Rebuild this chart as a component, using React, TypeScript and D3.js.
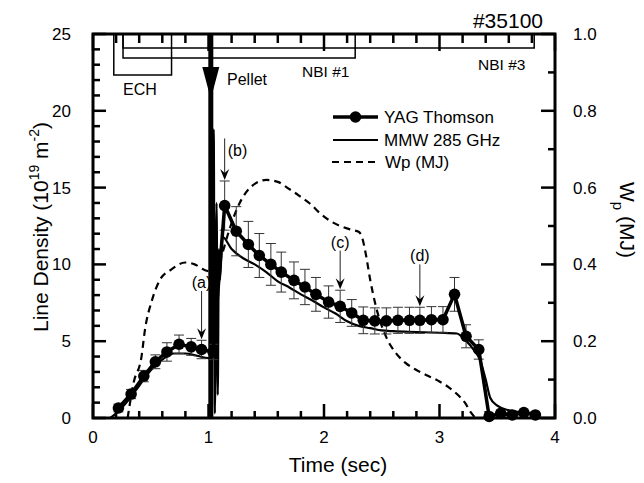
import React from 'react';
import * as d3 from 'd3';

// ---- data ----
const yagTime = [0.22, 0.33, 0.44, 0.54, 0.64, 0.745, 0.85, 0.94, 1.04, 1.14, 1.24, 1.345, 1.44, 1.54, 1.63, 1.74, 1.835, 1.93, 2.04, 2.14, 2.24, 2.34, 2.44, 2.54, 2.64, 2.74, 2.83, 2.93, 3.03, 3.13, 3.23, 3.34, 3.43, 3.53, 3.63, 3.73, 3.83];
const yagDensity = [0.65, 1.56, 2.73, 3.66, 4.3, 4.8, 4.63, 4.46, 4.3, 13.83, 12.16, 11.3, 10.58, 10.0, 9.5, 8.96, 8.53, 8.05, 7.55, 7.27, 6.84, 6.36, 6.32, 6.32, 6.36, 6.36, 6.36, 6.4, 6.4, 8.05, 5.32, 4.46, 0.1, 0.3, 0.2, 0.35, 0.2];
const yagError = [0.25, 0.3, 0.37, 0.45, 0.6, 0.6, 0.55, 0.6, 0.5, 1.6, 1.6, 1.5, 1.43, 1.36, 1.3, 1.2, 1.15, 1.1, 1.05, 1.05, 0.87, 0.87, 0.85, 0.85, 0.85, 0.85, 0.85, 0.85, 0.85, 1.1, 0.75, 0.63, 0.1, 0.1, 0.1, 0.1, 0.1];

const mmwTime = [0.15, 0.2, 0.3, 0.4, 0.5, 0.6, 0.7, 0.8, 0.9, 1.0, 1.03, 1.045, 1.055, 1.07, 1.08, 1.09, 1.1, 1.12, 1.2, 1.3, 1.4, 1.5, 1.6, 1.7, 1.8, 1.9, 2.0, 2.1, 2.2, 2.3, 2.4, 2.5, 2.6, 2.8, 3.0, 3.15, 3.22, 3.3, 3.35, 3.4, 3.44, 3.5, 3.6, 3.7, 3.8, 3.85];
const mmwDensity = [0.0, 0.3, 1.1, 2.1, 3.1, 3.8, 4.2, 4.2, 4.05, 3.9, 4.0, 18.8, 0.3, 14.0, 1.5, 11.0, 9.0, 11.8, 11.0, 10.4, 10.0, 9.5, 8.9, 8.5, 8.05, 7.65, 7.2, 6.8, 6.3, 6.0, 5.85, 5.7, 5.65, 5.6, 5.55, 5.5, 5.1, 4.4, 3.8, 2.5, 1.3, 0.8, 0.5, 0.38, 0.3, 0.28];

const wpTime = [0.30, 0.35, 0.42, 0.45, 0.51, 0.58, 0.67, 0.80, 0.88, 0.97, 1.05, 1.12, 1.18, 1.27, 1.38, 1.50, 1.60, 1.68, 1.78, 1.88, 1.97, 2.05, 2.14, 2.24, 2.30, 2.33, 2.36, 2.40, 2.45, 2.54, 2.62, 2.70, 2.80, 2.90, 3.00, 3.08, 3.16, 3.22, 3.27, 3.31];
const wpEnergy = [0.0, 0.09, 0.16, 0.23, 0.306, 0.36, 0.385, 0.405, 0.40, 0.385, 0.38, 0.43, 0.49, 0.56, 0.605, 0.62, 0.615, 0.60, 0.58, 0.558, 0.532, 0.514, 0.50, 0.49, 0.485, 0.47, 0.43, 0.36, 0.29, 0.21, 0.17, 0.145, 0.125, 0.11, 0.095, 0.08, 0.06, 0.04, 0.015, 0.0];

const xTicks = [0, 1, 2, 3, 4];
const yLeftTicks = [0, 5, 10, 15, 20, 25];
const yRightTicks = [0.0, 0.2, 0.4, 0.6, 0.8, 1.0];

const heatingNames = ['ECH', 'NBI #1', 'NBI #3'];
const heatingStart = [0.18, 0.26, 0.26];
const heatingEnd = [0.68, 2.27, 3.82];
const pelletTime = 1.02;

const annotLabels = ['(a)', '(b)', '(c)', '(d)'];
const annotPoint = [7, 9, 19, 26]; // index into YAG points
const annotTop = [8.27, 18.2, 10.9, 10.0]; // arrow start (density units)

const legendLabels = ['YAG Thomson', 'MMW 285 GHz', 'Wp (MJ)'];

const FONT = 'Liberation Sans, Arial, Helvetica, sans-serif';

export default function App() {
  const W = 644, H = 483;
  const x = d3.scaleLinear().domain([0, 4]).range([93, 555]);
  const y = d3.scaleLinear().domain([0, 25]).range([418, 34]);
  const yR = d3.scaleLinear().domain([0, 1]).range([418, 34]);
  const [x0, x1] = x.range();
  const [yB, yT] = y.range();

  const yag = yagTime.map((t, i) => ({ t, n: yagDensity[i], e: yagError[i] }));
  const mmw = mmwTime.map((t, i) => ({ t, n: mmwDensity[i] }));
  const wp = wpTime.map((t, i) => ({ t, v: wpEnergy[i] }));

  const yagLine = d3.line<any>().x(d => x(d.t)).y(d => y(d.n));
  const mmwLine = d3.line<any>().x(d => x(d.t)).y(d => y(d.n)).curve(d3.curveMonotoneX);
  const wpLine = d3.line<any>().x(d => x(d.t)).y(d => yR(d.v)).curve(d3.curveMonotoneX);

  const xMinor = d3.range(0, 4.001, 0.2);
  const yMinor = d3.range(0, 25.001, 1);
  const yRMinor = d3.range(0, 1.0001, 0.1);

  const heatY = [75, 58, 48];

  const chevron = (cx: number, cy: number) =>
    `M${cx},${cy} L${cx - 4.5},${cy - 11} L${cx},${cy - 7} L${cx + 4.5},${cy - 11} Z`;

  const px = x(pelletTime);

  return (
    <svg width={W} height={H} style={{ position: 'absolute', left: 0, top: 0, background: '#fff' }} fontFamily={FONT}>
      <rect x={0} y={0} width={W} height={H} fill="#fff" />

      {/* heating windows */}
      {heatingNames.map((name, i) => (
        <path key={name}
          d={`M${x(heatingStart[i])},${yT} V${heatY[i]} H${x(heatingEnd[i])} V${yT}`}
          fill="none" stroke="#000" strokeWidth={1.5} />
      ))}
      <text x={123} y={95} fontSize={16}>ECH</text>
      <text x={302} y={77} fontSize={15.5}>NBI #1</text>
      <text x={478} y={70} fontSize={15.5}>NBI #3</text>
      <text x={543} y={28} fontSize={21} textAnchor="end">#35100</text>

      {/* pellet */}
      <line x1={px} x2={px} y1={yT} y2={yB} stroke="#000" strokeWidth={5} />
      <path d={`M${px - 8.5},${67} L${px + 8.5},${67} L${px},${99} Z`} fill="#000" />
      <text x={227} y={85} fontSize={16}>Pellet</text>

      {/* Wp dashed */}
      <path d={wpLine(wp) || ''} fill="none" stroke="#000" strokeWidth={2.2} strokeDasharray="7,5" />

      {/* MMW */}
      <path d={mmwLine(mmw) || ''} fill="none" stroke="#000" strokeWidth={2.2} />

      {/* YAG error bars */}
      {yag.map((d, i) => (
        <g key={'e' + i} stroke="#333" strokeWidth={1}>
          <line x1={x(d.t)} x2={x(d.t)} y1={y(d.n + d.e)} y2={y(d.n - d.e)} />
          <line x1={x(d.t) - 5} x2={x(d.t) + 5} y1={y(d.n + d.e)} y2={y(d.n + d.e)} />
          <line x1={x(d.t) - 5} x2={x(d.t) + 5} y1={y(d.n - d.e)} y2={y(d.n - d.e)} />
        </g>
      ))}
      <path d={yagLine(yag) || ''} fill="none" stroke="#000" strokeWidth={3.5} />
      {yag.map((d, i) => (
        <circle key={'p' + i} cx={x(d.t)} cy={y(d.n)} r={5.8} fill="#000" />
      ))}

      {/* annotations */}
      {annotLabels.map((lab, i) => {
        const p = yag[annotPoint[i]];
        const ax = x(p.t);
        const tipY = y(p.n + p.e) - 1;
        const topY = y(annotTop[i]);
        const isB = lab === '(b)';
        return (
          <g key={lab}>
            <line x1={ax} x2={ax} y1={topY} y2={tipY - 6} stroke="#222" strokeWidth={1} />
            <path d={chevron(ax, tipY)} fill="#000" />
            <text x={isB ? ax + 3 : ax} y={isB ? topY + 18 : topY - 3} fontSize={16}
              textAnchor={isB ? 'start' : 'middle'}>{lab}</text>
          </g>
        );
      })}

      {/* legend */}
      <g fontSize={17}>
        <line x1={333} x2={378} y1={117} y2={117} stroke="#000" strokeWidth={3.5} />
        <circle cx={355.5} cy={117} r={5.8} fill="#000" />
        <text x={384} y={123}>{legendLabels[0]}</text>
        <line x1={333} x2={378} y1={140} y2={140} stroke="#000" strokeWidth={2.2} />
        <text x={384} y={146}>{legendLabels[1]}</text>
        <line x1={332} x2={380} y1={162} y2={162} stroke="#000" strokeWidth={2.2} strokeDasharray="7,5" />
        <text x={385} y={168}>{legendLabels[2]}</text>
      </g>

      {/* ticks */}
      <g stroke="#000" strokeWidth={2.5}>
        {xMinor.map((t, i) => {
          const major = Math.abs(t - Math.round(t)) < 1e-6;
          return (
            <g key={'xt' + i}>
              <line x1={x(t)} x2={x(t)} y1={yB} y2={yB - (major ? 14 : 7)} />
              <line x1={x(t)} x2={x(t)} y1={yT} y2={yT + (major ? 17 : 9)} />
            </g>
          );
        })}
        {yMinor.map((v, i) => (
          <line key={'yl' + i} x1={x0} x2={x0 + (v % 5 === 0 ? 13 : 7)} y1={y(v)} y2={y(v)} />
        ))}
        {yRMinor.map((v, i) => {
          const major = Math.round(v * 10) % 2 === 0;
          return <line key={'yr' + i} x1={x1} x2={x1 - (major ? 14 : 7)} y1={yR(v)} y2={yR(v)} />;
        })}
      </g>

      {/* frame */}
      <rect x={x0} y={yT} width={x1 - x0} height={yB - yT} fill="none" stroke="#000" strokeWidth={3} />

      {/* tick labels */}
      <g fontSize={17}>
        {xTicks.map(t => (
          <text key={'xl' + t} x={x(t)} y={443} textAnchor="middle">{t}</text>
        ))}
        {yLeftTicks.map(v => (
          <text key={'yll' + v} x={71} y={y(v) + 6} textAnchor="end">{v}</text>
        ))}
        {yRightTicks.map(v => (
          <text key={'yrl' + v} x={573} y={yR(v) + 6} textAnchor="start">{v.toFixed(1)}</text>
        ))}
      </g>

      {/* axis titles */}
      <text x={338} y={472} fontSize={21} textAnchor="middle">Time (sec)</text>
      <text transform={`translate(48,227) rotate(-90)`} fontSize={21} textAnchor="middle">
        Line Density (10<tspan fontSize={14} dy={-9}>19</tspan><tspan dy={9}> m</tspan><tspan fontSize={14} dy={-9}>-2</tspan><tspan dy={9}>)</tspan>
      </text>
      <text transform={`translate(620,220) rotate(90)`} fontSize={21} textAnchor="middle">
        W<tspan fontSize={15} dy={7}>p</tspan><tspan dy={-7}> (MJ)</tspan>
      </text>
    </svg>
  );
}
